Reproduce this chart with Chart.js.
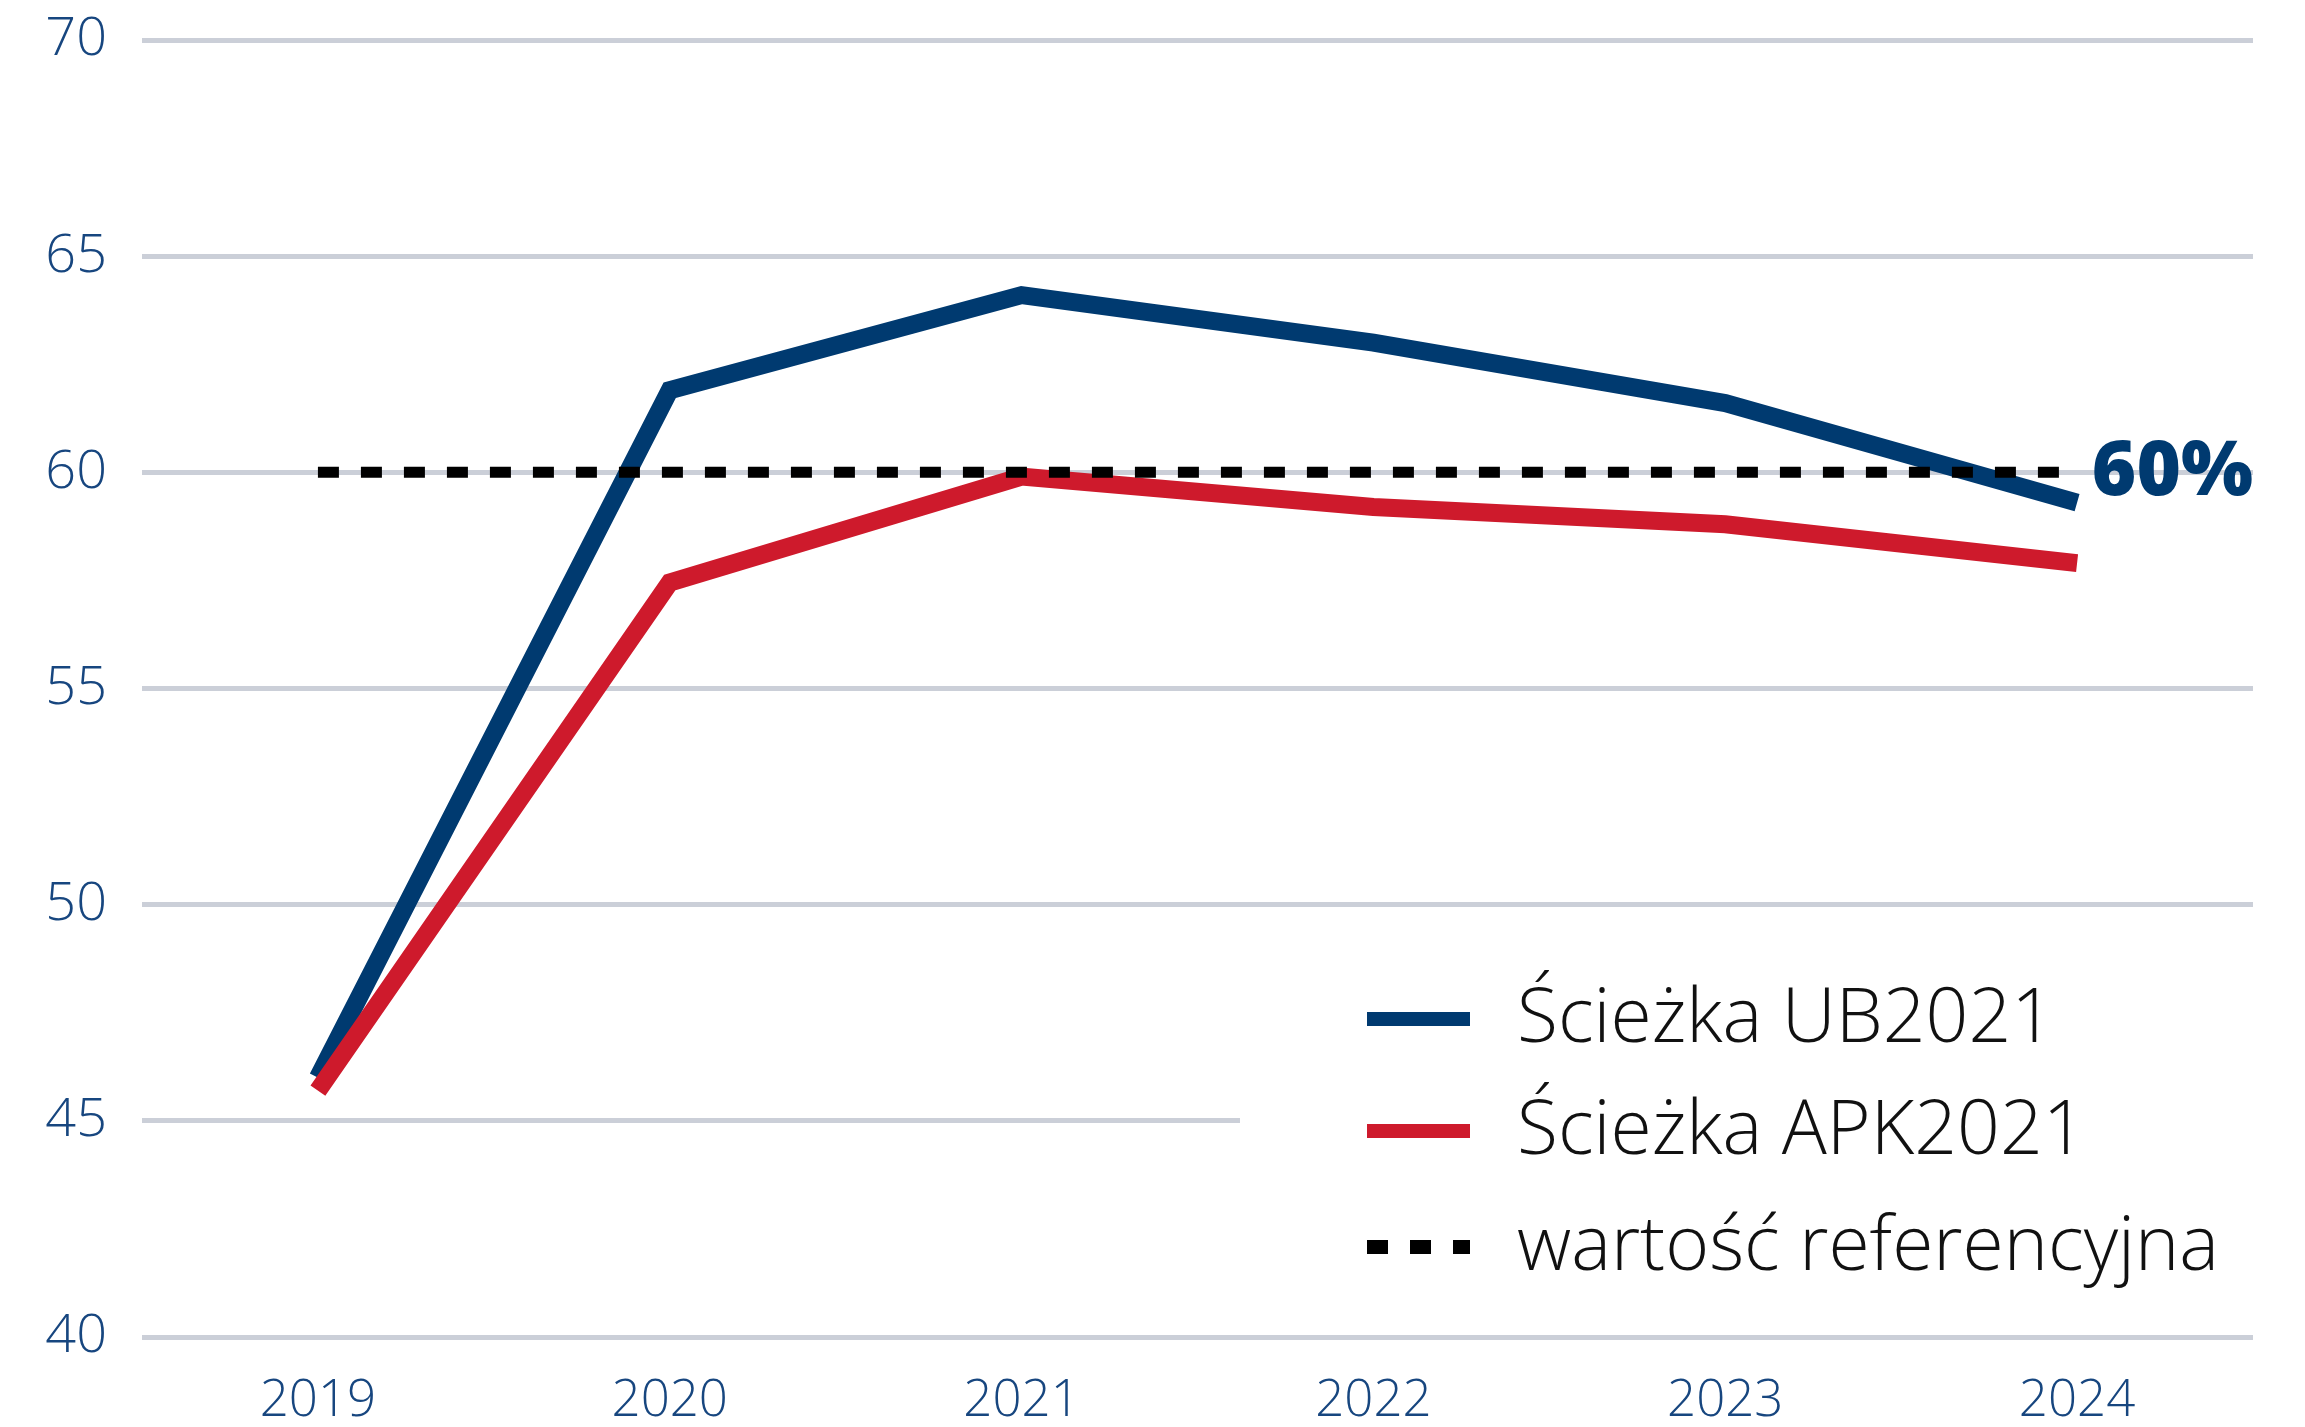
<!DOCTYPE html>
<html>
<head>
<meta charset="utf-8">
<script src="https://cdn.jsdelivr.net/npm/chart.js@4/dist/chart.umd.min.js"></script>
<style>
  html, body { margin: 0; padding: 0; background: #fff; }
  #wrap { width: 2305px; height: 1427px; }
</style>
</head>
<body>
<div id="wrap"><canvas id="debt"></canvas></div>
<script>
// values
const years = ['2019', '2020', '2021', '2022', '2023', '2024']
const ub2021 = [46.0, 61.9, 64.1, 63.0, 61.6, 59.3]
const apk2021 = [45.7, 57.45, 59.9, 59.2, 58.8, 57.9]
const refValue = [60, 60, 60, 60, 60, 60]
const seriesNames = ['Ścieżka UB2021', 'Ścieżka APK2021', 'wartość referencyjna']
const refLabel = '60%'

const navy = '#003a70'
const red = '#ce1a2c'
const tickColor = '#17467f'
const gridColor = '#cbcfd8'
const lightFont = '"Open Sans", "Liberation Sans", sans-serif'

// legend drawn by hand so the dotted swatch looks like the chart line
const sideLegend = {
  id: 'sideLegend',
  afterDraw(chart) {
    const c = chart.ctx
    const x0 = 1367, swW = 103, textX = 1517
    const rows = [1019, 1131, 1247]
    c.save()
    c.fillStyle = '#fff'
    c.fillRect(1240, 950, 1065, 350)
    const order = [1, 2, 0] // UB, APK, ref
    order.forEach((di, i) => {
      const ds = chart.data.datasets[di]
      c.beginPath()
      c.strokeStyle = ds.borderColor
      c.lineWidth = 14
      c.lineCap = 'butt'
      c.setLineDash(ds.borderDash || [])
      c.moveTo(x0, rows[i])
      c.lineTo(x0 + swW, rows[i])
      c.stroke()
      c.setLineDash([])
      c.fillStyle = '#111'
      c.font = '300 75px ' + lightFont
      c.textAlign = 'left'
      c.textBaseline = 'middle'
      c.fillText(ds.label, textX, rows[i] + 2)
    })
    // 60% label at the right end of the reference line
    const y = chart.scales.y.getPixelForValue(refValue[refValue.length - 1])
    c.fillStyle = navy
    c.font = '800 76px "Open Sans", "Liberation Sans", sans-serif'
    c.textAlign = 'right'
    c.textBaseline = 'middle'
    c.fillText(refLabel, chart.chartArea.right, y + 1)
    c.restore()
  }
}

new Chart(document.getElementById('debt'), {
  type: 'line',
  data: {
    labels: years,
    datasets: [
      {
        label: seriesNames[2],
        data: refValue,
        borderColor: '#000',
        backgroundColor: '#000',
        borderWidth: 11,
        borderDash: [21, 22],
        borderCapStyle: 'butt',
        pointRadius: 0,
        order: 0
      },
      {
        label: seriesNames[0],
        data: ub2021,
        borderColor: navy,
        backgroundColor: navy,
        borderWidth: 18,
        borderJoinStyle: 'miter',
        borderCapStyle: 'butt',
        pointRadius: 0,
        order: 2
      },
      {
        label: seriesNames[1],
        data: apk2021,
        borderColor: red,
        backgroundColor: red,
        borderWidth: 18,
        borderJoinStyle: 'miter',
        borderCapStyle: 'butt',
        pointRadius: 0,
        order: 1
      }
    ]
  },
  options: {
    responsive: true,
    maintainAspectRatio: false,
    animation: false,
    layout: { padding: { top: 40, right: 52, left: 0, bottom: 0 } },
    plugins: {
      legend: { display: false },
      tooltip: { enabled: false }
    },
    scales: {
      x: {
        offset: true,
        border: { display: false },
        grid: { display: false, drawTicks: false },
        ticks: {
          color: tickColor,
          padding: 34,
          font: { family: lightFont, size: 51, weight: '300' }
        },
        afterFit: (s) => { s.height = 90; s.paddingLeft = 0; s.paddingRight = 0 }
      },
      y: {
        min: 40,
        max: 70,
        border: { display: false },
        grid: { color: gridColor, lineWidth: 5, drawTicks: false },
        ticks: {
          stepSize: 5,
          color: tickColor,
          padding: 35,
          font: { family: lightFont, size: 54, weight: '300' }
        },
        afterFit: (s) => { s.width = 142; s.paddingTop = 0; s.paddingBottom = 0 }
      }
    }
  },
  plugins: [sideLegend]
})
</script>
</body>
</html>
